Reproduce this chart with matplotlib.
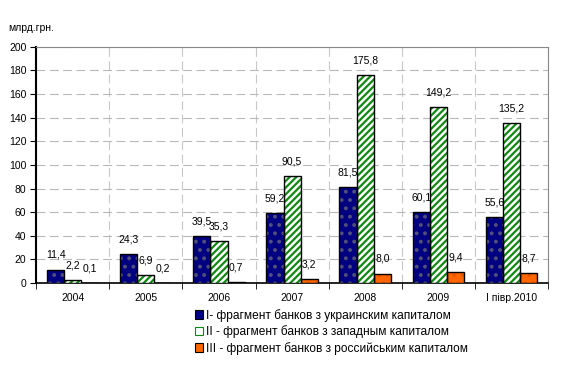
import matplotlib
matplotlib.use("Agg")
import matplotlib.pyplot as plt
import numpy as np
from matplotlib.patches import Patch

categories = ["2004", "2005", "2006", "2007", "2008", "2009", "I півр.2010"]
ukr = [11.4, 24.3, 39.5, 59.2, 81.5, 60.1, 55.6]
west = [2.2, 6.9, 35.3, 90.5, 175.8, 149.2, 135.2]
rus = [0.1, 0.2, 0.7, 3.2, 8.0, 9.4, 8.7]
series_names = ["I- фрагмент банков з украинским капиталом",
                "II - фрагмент банков з западным капиталом",
                "III - фрагмент банков з российським капиталом"]
yticks = [0, 20, 40, 60, 80, 100, 120, 140, 160, 180, 200]

plt.rcParams['font.family'] = ['Liberation Sans', 'DejaVu Sans']
plt.rcParams['hatch.linewidth'] = 1.6

fig = plt.figure(figsize=(5.65, 3.69), dpi=100)
ax = fig.add_axes([0.064, 0.233, 0.906, 0.64])

x = np.arange(len(categories))
w = 0.235
styles = [
    dict(face="#000080", hatch="..", hcol="#50507a"),
    dict(face="white", hatch="/////", hcol="#118811"),
    dict(face="#ff6600", hatch="..", hcol="#e85800"),
]
data = [ukr, west, rus]
for i, (vals, st) in enumerate(zip(data, styles)):
    pos = x + (i - 1) * w
    ax.bar(pos, vals, w, color=st["face"], edgecolor="none", zorder=3)
    ax.bar(pos, vals, w, color="none", edgecolor=st["hcol"], hatch=st["hatch"], linewidth=0, zorder=4)
    ax.bar(pos, vals, w, color="none", edgecolor="black", linewidth=1.0, zorder=5)
    for p, v in zip(pos, vals):
        ax.annotate(f"{v:.1f}".replace(".", ","), (p, v), xytext=(0, 7), textcoords="offset points",
                    ha="center", va="bottom", fontsize=7.5, zorder=6)

ax.set_xlim(-0.5, len(categories) - 0.5)
ax.set_ylim(0, 200)
ax.set_yticks(yticks)
ax.set_yticklabels([str(t) for t in yticks], fontsize=7.5)
ax.set_xticks(x)
ax.set_xticklabels(categories, fontsize=7.5)
ax.tick_params(axis='x', length=0, pad=7)
ax.set_xticks(np.arange(len(categories) + 1) - 0.5, minor=True)
ax.tick_params(axis='x', which='minor', length=4, direction='out', color='black')
ax.tick_params(axis='y', length=4, direction='out', color='black', pad=3)

ax.grid(axis='y', which='major', color='#b8b8b8', linestyle=(0, (8, 4)), linewidth=0.8, zorder=0)
ax.grid(axis='x', which='minor', color='#c8c8c8', linestyle=(0, (8, 4)), linewidth=0.8, zorder=0)
for s in ['top', 'right']:
    ax.spines[s].set_color('#888888')
    ax.spines[s].set_linewidth(0.8)
ax.spines['left'].set_linewidth(1.5)
ax.spines['bottom'].set_linewidth(1.2)

fig.text(0.014, 0.925, "млрд.грн.", fontsize=7.5, ha="left", va="center")

handles = [Patch(facecolor=st["face"], edgecolor="black", linewidth=0.8) for st in styles]
handles[1] = Patch(facecolor="white", edgecolor="#118811", linewidth=0.8)
fig.legend(handles, series_names, loc="upper left", bbox_to_anchor=(0.345, 0.163), frameon=False,
           fontsize=8.6, handlelength=0.7, handleheight=0.7, handletextpad=0.2, labelspacing=0.3,
           borderaxespad=0, borderpad=0)

fig.savefig("out.png", dpi=100)
